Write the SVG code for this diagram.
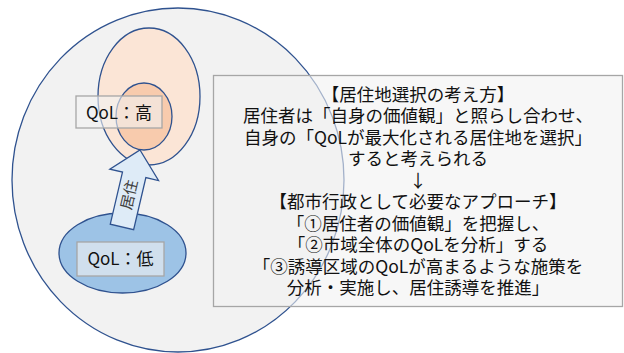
<svg xmlns="http://www.w3.org/2000/svg" width="624" height="353" viewBox="0 0 624 353">
<style>
.sh{stroke:#2f528f;stroke-width:1.3}
.lbl{fill:#f2f2f2;fill-opacity:0.6;stroke:#a6a6a6;stroke-width:1.3}
text{font-family:"Noto Sans CJK JP","Noto Sans",sans-serif;fill:#111111}
.t{font-size:17.5px;text-anchor:middle}
.q{font-size:17px;text-anchor:middle}
</style>
<rect width="624" height="353" fill="#ffffff"/>
<g id="region">
<ellipse cx="178" cy="180" rx="166" ry="172" fill="#f2f2f2" class="sh"/>
</g>
<g id="high-outer">
<ellipse cx="149" cy="96.5" rx="51" ry="68.5" fill="#fbe5d6" class="sh"/>
</g>
<g id="high-inner">
<ellipse cx="144" cy="116.5" rx="28" ry="33.5" fill="#f8cbad" class="sh"/>
</g>
<g id="low">
<ellipse cx="122.5" cy="253" rx="63.5" ry="40" fill="#9dc3e6" class="sh"/>
</g>
<g id="label-high">
<rect x="76" y="96" width="86" height="32" class="lbl"/>
<text class="q" x="119" y="118.5">QoL：高</text>
</g>
<g id="label-low">
<rect x="77" y="242" width="87" height="34" class="lbl"/>
<text class="q" x="120.5" y="265">QoL：低</text>
</g>
<g id="connectors">
<g id="arrow-move" transform="translate(140,150) rotate(13.2)">
<path d="M0,0 L25,25.5 L12,25.5 L12,79 L-12,79 L-12,25.5 L-25,25.5 Z" fill="#deebf7" class="sh"/>
<text x="0" y="51" transform="rotate(-90 0 46)" font-size="15" text-anchor="middle" style="fill:#404040">居住</text>
</g>
</g>
<g id="note">
<rect x="213.5" y="75.5" width="409" height="231" fill="#f2f2f2" fill-opacity="0.6" stroke="#a6a6a6" stroke-width="1.3"/>
<text class="t" x="418" y="101">【居住地選択の考え方】<tspan x="418" dy="21.44">居住者は「自身の価値観」と照らし合わせ、</tspan><tspan x="418" dy="21.44">自身の「QoLが最大化される居住地を選択」</tspan><tspan x="418" dy="21.44">すると考えられる</tspan><tspan x="418" dy="21.44">↓</tspan><tspan x="418" dy="21.44">【都市行政として必要なアプローチ】</tspan><tspan x="418" dy="21.44">「①居住者の価値観」を把握し、</tspan><tspan x="418" dy="21.44">「②市域全体のQoLを分析」する</tspan><tspan x="418" dy="21.44">「③誘導区域のQoLが高まるような施策を</tspan><tspan x="418" dy="21.44">分析・実施し、居住誘導を推進」</tspan></text>
</g>
</svg>
